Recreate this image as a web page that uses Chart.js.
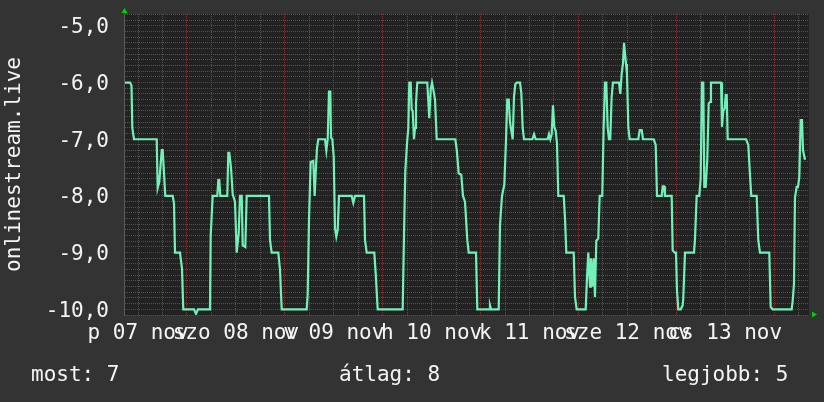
<!DOCTYPE html>
<html>
<head>
<meta charset="utf-8">
<script src="https://cdn.jsdelivr.net/npm/chart.js@4.4.1/dist/chart.umd.min.js"></script>
<style>
    html, body { margin: 0; padding: 0; background: #333; }
    #wrap { width: 824px; height: 402px; }
</style>
</head>
<body>
<div id="wrap"><canvas id="chart" width="824" height="402"></canvas></div>
<script>
// hours since nov 07 00:00, and the (negated) rank at that time
const hours = [
    8.80, 10.02, 10.39, 10.59, 11.00, 16.57, 16.81, 17.21, 17.80, 18.04, 18.36, 18.68,
    20.49, 20.81, 21.06, 22.28, 22.77, 23.09, 25.72, 26.21, 26.70, 29.64, 29.81, 30.30,
    31.43, 31.68, 31.92, 32.17, 33.88, 34.13, 34.37, 34.79, 35.21, 35.77, 36.19, 36.68,
    37.00, 37.42, 37.66, 38.30, 38.64, 44.11, 44.36, 44.77, 46.39, 46.81, 47.23, 53.36,
    53.60, 53.92, 54.33, 54.97, 55.31, 55.63, 55.88, 56.20, 57.85, 58.17, 58.51, 58.83,
    59.15, 59.32, 59.64, 59.98, 60.30, 60.62, 60.96, 61.28, 64.39, 64.79, 65.20, 67.41,
    67.66, 68.07, 69.94, 70.28, 70.77, 76.90, 77.22, 77.54, 78.03, 78.27, 78.52, 78.86,
    79.11, 79.35, 79.67, 79.92, 80.16, 80.48, 82.93, 83.42, 83.77, 84.09, 84.41, 84.83,
    85.24, 89.80, 90.15, 90.64, 91.27, 91.69, 92.18, 92.75, 93.09, 94.88, 95.20, 98.07,
    98.31, 98.56, 100.45, 100.76, 101.25, 101.82, 102.23, 102.55, 102.90, 103.22, 103.54, 103.88,
    104.20, 104.52, 104.86, 105.67, 105.99, 106.33, 106.65, 108.69, 109.11, 109.52, 112.46, 112.78,
    113.10, 113.44, 113.76, 114.08, 114.42, 114.74, 115.06, 116.39, 116.71, 117.03, 118.84, 119.16,
    119.57, 121.78, 122.10, 122.42, 122.84, 123.08, 123.40, 123.74, 124.06, 124.38, 124.87, 125.21,
    125.85, 126.19, 126.51, 126.83, 127.17, 127.49, 127.81, 128.15, 128.47, 129.95, 130.27, 130.61,
    130.93, 131.18, 131.42, 131.67, 131.91, 132.23, 132.57, 134.68, 135.03, 135.52, 135.84, 138.46,
    138.95, 139.27, 140.42, 140.67, 140.99, 141.23, 142.87, 143.12, 143.61, 143.93, 144.17, 144.49,
    145.08, 145.57, 145.72, 146.14, 148.34, 148.58, 149.00, 149.64, 149.98, 150.30, 150.62, 150.87,
    151.21, 151.61, 151.95, 152.27, 152.51, 154.97, 155.21, 155.53, 155.88, 156.12, 156.37, 156.61,
    161.10, 161.66, 162.08, 162.40, 163.72, 164.11, 164.53, 166.81, 167.15, 167.64, 172.30, 172.55,
    172.87, 173.11, 173.53, 173.85, 174.17, 174.51, 174.83, 175.08, 175.49, 175.81
];
const ranks = [
    -6.0, -6.0, -6.05, -6.8, -7.0, -7.0, -7.86, -7.75, -7.19, -7.19, -7.6, -8.0,
    -8.0, -8.13, -9.0, -9.0, -9.28, -10.0, -10.0, -10.08, -10.0, -10.0, -8.7, -8.0,
    -8.0, -7.72, -7.72, -8.0, -8.0, -7.24, -7.24, -7.5, -7.97, -8.1, -9.0, -8.66,
    -8.0, -8.0, -8.87, -8.9, -8.0, -8.0, -8.78, -9.0, -9.0, -9.3, -10.0, -10.0,
    -9.73, -8.43, -7.4, -7.38, -8.0, -7.5, -7.16, -7.0, -7.0, -7.2, -7.0, -6.16,
    -6.16, -6.97, -7.0, -7.3, -8.57, -8.72, -8.6, -8.0, -8.0, -8.12, -8.0, -8.0,
    -8.78, -9.0, -9.0, -9.37, -10.0, -10.0, -8.7, -7.55, -7.0, -6.82, -6.0, -6.0,
    -6.48, -6.5, -7.0, -6.8, -6.36, -6.0, -6.0, -6.63, -6.12, -6.0, -6.12, -6.3,
    -7.0, -7.0, -7.18, -7.6, -7.63, -8.0, -8.1, -8.78, -9.0, -9.0, -10.0, -10.0,
    -9.93, -10.0, -10.0, -8.52, -8.0, -7.8, -7.03, -6.3, -6.3, -6.7, -6.85, -7.0,
    -6.25, -6.03, -6.0, -6.0, -6.18, -6.8, -7.0, -7.0, -6.91, -7.0, -7.0, -6.91,
    -7.0, -6.91, -6.4, -6.78, -6.85, -7.07, -8.0, -8.0, -8.4, -9.0, -9.0, -9.78,
    -10.0, -10.0, -9.45, -9.0, -9.6, -9.1, -9.6, -9.1, -9.78, -8.79, -8.75, -8.0,
    -8.0, -6.78, -6.0, -6.0, -6.78, -7.0, -7.0, -6.25, -6.0, -6.0, -6.2, -5.84,
    -5.66, -5.3, -5.3, -5.67, -5.84, -6.78, -7.0, -7.0, -6.84, -6.84, -7.0, -7.0,
    -7.1, -8.0, -8.0, -7.83, -7.83, -8.0, -8.0, -8.96, -9.0, -9.0, -9.66, -10.0,
    -10.0, -9.93, -9.8, -9.0, -9.0, -8.78, -8.0, -8.0, -7.69, -6.0, -6.0, -7.84,
    -7.84, -7.34, -6.37, -6.34, -6.0, -6.0, -6.78, -6.5, -6.45, -6.22, -6.22, -7.0,
    -7.0, -7.1, -7.64, -8.0, -8.0, -8.78, -9.0, -9.0, -9.96, -10.0, -10.0, -9.85,
    -9.55, -8.03, -7.84, -7.84, -7.67, -6.66, -6.66, -7.19, -7.34, -7.34
];
const dayLabels = ['p 07 nov', 'szo 08 nov', 'v 09 nov', 'h 10 nov', 'k 11 nov', 'sze 12 nov', 'cs 13 nov'];
const dayNoons = [12, 36, 60, 84, 108, 132, 156];
const seriesName = 'onlinestream.live';
const summaryLabels = ['most: 7', 'átlag: 8', 'legjobb: 5'];

const FONT = 'DejaVu Sans Mono';
const MAJOR = 'rgba(125, 58, 58, 0.95)';
const MINOR = 'rgba(82, 82, 82, 1)';

const rrdLook = {
    id: 'rrdLook',
    beforeDraw(chart) {
        const { ctx, chartArea: a } = chart;
        ctx.save();
        ctx.fillStyle = '#333333';
        ctx.fillRect(0, 0, chart.width, chart.height);
        ctx.fillStyle = '#222222';
        ctx.fillRect(a.left, a.top, a.right - a.left, a.bottom - a.top);
        ctx.restore();
    },
    afterDraw(chart) {
        const { ctx, chartArea: a } = chart;
        ctx.save();
        // little green arrows at the axis ends
        ctx.fillStyle = '#00d000';
        ctx.beginPath();
        ctx.moveTo(a.left + 0.5, a.top - 6);
        ctx.lineTo(a.left - 2.5, a.top - 1);
        ctx.lineTo(a.left + 3.5, a.top - 1);
        ctx.fill();
        ctx.beginPath();
        ctx.moveTo(a.right + 8, a.bottom - 0.5);
        ctx.lineTo(a.right + 3, a.bottom - 3.5);
        ctx.lineTo(a.right + 3, a.bottom + 2.5);
        ctx.fill();

        // summary line under the chart
        ctx.fillStyle = '#f4f4f4';
        ctx.font = `21px "${FONT}"`;
        ctx.textBaseline = 'alphabetic';
        const xs = [31, 339, 662];
        summaryLabels.forEach((t, i) => ctx.fillText(t, xs[i], 381));
        ctx.restore();
    }
};

const ctx = document.getElementById('chart').getContext('2d');
new Chart(ctx, {
    type: 'line',
    data: {
        datasets: [{
            label: seriesName,
            data: hours.map((h, i) => ({ x: h, y: ranks[i] })),
            borderColor: '#72f0b8',
            borderWidth: 2.2,
            pointRadius: 0,
            tension: 0,
            fill: false
        }]
    },
    options: {
        responsive: false,
        animation: false,
        devicePixelRatio: 1,
        layout: { padding: { left: 0, right: 15, top: 14, bottom: 47 } },
        plugins: { legend: { display: false }, tooltip: { enabled: false } },
        scales: {
            x: {
                type: 'linear',
                min: 8.55,
                max: 176.55,
                afterBuildTicks: (scale) => {
                    const t = [];
                    for (let h = 12; h <= 176.55; h += 6) t.push({ value: h });
                    scale.ticks = t;
                },
                afterFit: (scale) => {
                    scale.height = 40;
                    scale.paddingLeft = 0;
                    scale.paddingRight = 0;
                },
                ticks: {
                    autoSkip: false,
                    maxRotation: 0,
                    minRotation: 0,
                    padding: 6,
                    color: '#f4f4f4',
                    font: { family: FONT, size: 21 },
                    callback: (v) => {
                        const i = dayNoons.indexOf(v);
                        return i >= 0 ? dayLabels[i] : '';
                    }
                },
                grid: {
                    drawTicks: false,
                    color: (c) => (c.tick && c.tick.value % 24 === 0 ? MAJOR : MINOR)
                },
                border: { display: false, dash: [1, 1] }
            },
            y: {
                min: -10.1,
                max: -4.79,
                afterBuildTicks: (scale) => {
                    const t = [];
                    for (let i = -101; i <= -48; i++) t.push({ value: i / 10 });
                    scale.ticks = t;
                },
                afterFit: (scale) => {
                    scale.width = 124;
                    scale.paddingTop = 0;
                    scale.paddingBottom = 0;
                },
                ticks: {
                    autoSkip: false,
                    padding: 15,
                    labelOffset: 2,
                    color: '#f4f4f4',
                    font: { family: FONT, size: 21 },
                    callback: (v) => (Math.abs(v - Math.round(v)) < 1e-6 ? v.toFixed(1).replace('.', ',') : '')
                },
                grid: {
                    drawTicks: false,
                    color: (c) => (c.tick && Math.abs(c.tick.value - Math.round(c.tick.value)) < 1e-6 ? MAJOR : MINOR)
                },
                border: { display: true, color: 'rgba(90, 90, 90, 1)', width: 1, dash: [1, 1] },
                title: {
                    display: true,
                    text: seriesName,
                    color: '#f4f4f4',
                    font: { family: FONT, size: 21 },
                    padding: { top: 2, bottom: 0 }
                }
            }
        }
    },
    plugins: [rrdLook]
});
</script>
</body>
</html>
